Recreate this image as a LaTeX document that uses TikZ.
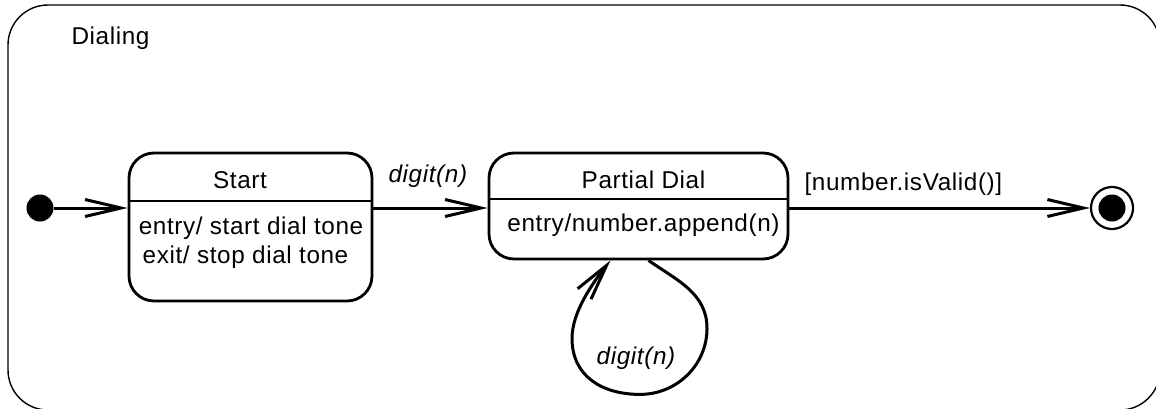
\documentclass[tikz,border=0pt]{standalone}
\usepackage{fontspec}
\setmainfont{Liberation Sans}[LetterSpace=2.5]
\usetikzlibrary{arrows.meta,positioning,calc}
\tikzset{
  ds/region/.style={
    draw,
    line width=1.4pt,
    rounded corners=40pt,
    minimum width=1152pt,
    minimum height=405pt,
    inner sep=0pt
  },
  ds/state/.style={
    draw,
    line width=2.8pt,
    rounded corners=25pt,
    fill=white,
    inner sep=0pt
  },
  ds/dot/.style={circle, fill, minimum size=27pt, inner sep=0pt},
  ds/final/.style={circle, draw, line width=2.2pt, fill=white, minimum size=42pt, inner sep=0pt},
  ds/label/.style={font=\fontsize{24.3pt}{30pt}\selectfont, inner sep=0pt},
  ds/event/.style={font=\fontsize{24.3pt}{30pt}\selectfont\itshape, inner sep=0pt},
  ds/arrow/.style={-{Straight Barb[length=36pt,width=17pt]}, line width=3pt},
  ds/divider/.style={line width=2.2pt}
}

\begin{document}
\begin{tikzpicture}[x=1pt,y=1pt]
  \useasboundingbox (0,0) rectangle (1156,408);
  \clip (0,0) rectangle (1156,408);

  % composite state
  \node[ds/region] (dialing) at (584,200.5) {};
  \node[ds/label, anchor=base west] (dialingname) at ([xshift=64pt,yshift=-40pt]dialing.north west) {Dialing};

  % states
  \node[ds/dot] (init) at (40,200) {};
  \node[ds/state, minimum width=243pt, minimum height=148pt] (start) at (250.5,181) {};
  \node[ds/state, minimum width=299pt, minimum height=106pt] (pd) at (638.5,202) {};
  \node[ds/final] (fin) at (1112,200) {};
  \node[ds/dot] (findot) at (fin) {};

  \draw[ds/divider] ([yshift=26pt]start.west) -- ([yshift=26pt]start.east);
  \draw[ds/divider] ([yshift=7pt]pd.west) -- ([yshift=7pt]pd.east);

  \node[ds/label, anchor=base] (starttitle) at ([xshift=-10.5pt,yshift=-37pt]start.north) {Start};
  \node[ds/label, anchor=base] (startentry) at ([xshift=0.5pt,yshift=-83pt]start.north) {entry/ start dial tone};
  \node[ds/label, anchor=base] (startexit) at ([xshift=-5pt,yshift=-112pt]start.north) {exit/ stop dial tone};
  \node[ds/label, anchor=base] (pdtitle) at ([xshift=5pt,yshift=-37pt]pd.north) {Partial Dial};
  \node[ds/label, anchor=base] (pdentry) at ([xshift=5pt,yshift=-80pt]pd.north) {entry/number.append(n)};

  % transitions
  \draw[ds/arrow] (init) -- (init -| start.west);
  \draw[ds/arrow] (init -| start.east) -- (init -| pd.west);
  \draw[ds/arrow] (init -| pd.east) -- (fin);

  \coordinate (loopout) at ([xshift=10pt]pd.south);
  \coordinate (loopright) at ([xshift=68.5pt,yshift=-68pt]pd.south);
  \coordinate (loopbot) at ([xshift=1.5pt,yshift=-134pt]pd.south);
  \coordinate (loopleft) at ([xshift=-66.5pt,yshift=-78pt]pd.south);
  \coordinate (loopin) at ([xshift=-28pt]pd.south);
  \draw[ds/arrow] (loopout) to[out=-35,in=90] (loopright)
    to[out=-90,in=0] (loopbot)
    to[out=180,in=-90,looseness=1.1] (loopleft)
    to[out=90,in=-128,looseness=0.8] (loopin);

  \node[ds/event, anchor=base west] (digit1) at ([xshift=15pt,yshift=26pt]init -| start.east) {digit(n)};
  \node[ds/label, anchor=base west] (guard) at ([xshift=15pt,yshift=18pt]init -| pd.east) {[number.isValid()]};
  \node[ds/event, anchor=base] (digit2) at ([xshift=-2.5pt,yshift=-104pt]pd.south) {digit(n)};
\end{tikzpicture}
\end{document}
